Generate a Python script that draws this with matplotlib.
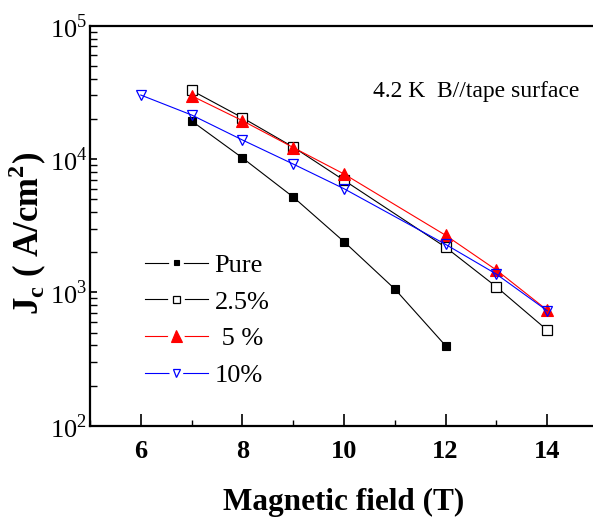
import matplotlib; matplotlib.use("Agg")
import matplotlib.pyplot as plt
import matplotlib.patheffects as pe
from matplotlib.lines import Line2D
from matplotlib.legend_handler import HandlerTuple
from matplotlib.ticker import LogLocator, NullFormatter, FixedLocator

plt.rcParams["font.family"] = ["Liberation Serif", "DejaVu Serif"]
plt.rcParams["mathtext.fontset"] = "custom"
plt.rcParams["mathtext.rm"] = "Liberation Serif"
plt.rcParams["mathtext.bf"] = "Liberation Serif:bold"

# data (field in T, Jc in A/cm^2)
field_pure = [7, 8, 9, 10, 11, 12]
jc_pure = [19300, 10200, 5190, 2400, 1060, 398]
field_25 = [7, 8, 9, 10, 12, 13, 14]
jc_25 = [32700, 20400, 12300, 6930, 2180, 1100, 521]
field_5 = [7, 8, 9, 10, 12, 13, 14]
jc_5 = [29800, 19400, 12200, 7720, 2680, 1470, 736]
field_10 = [6, 7, 8, 9, 10, 12, 13, 14]
jc_10 = [30200, 21400, 13900, 9170, 5990, 2290, 1370, 728]
labels = ["Pure", "2.5%", " 5 %", "10%"]

styles = [
    dict(color="black", marker="s", ms=5.5, mfc="black", mec="black", mew=0.8),
    dict(color="black", marker="s", ms=6.5, mfc="white", mec="black", mew=0.9),
    dict(color="red", marker="^", ms=8.5, mfc="red", mec="red", mew=0.8),
    dict(color="blue", marker="v", ms=7.5, mfc="none", mec="blue", mew=0.9),
]
leg_ms = [4.0, 5.0, 8.0, 5.5]

fig = plt.figure(figsize=(5.93, 5.17), dpi=100)
ax = fig.add_axes([90/593, 1-425.7/517, 508/593, 400/517])

series = [(field_pure, jc_pure), (field_25, jc_25), (field_5, jc_5), (field_10, jc_10)]
for (x, y), st, lab in zip(series, styles, labels):
    ax.plot(x, y, lw=0.8, label=lab, **st)

# legend handles: line with a gap around the marker
handles = []
for st, ms in zip(styles, leg_ms):
    line = Line2D([], [], color=st["color"], lw=0.8)
    mk = Line2D([], [], ls="none", marker=st["marker"], ms=ms, mfc=st["mfc"],
                mec=st["mec"], mew=st["mew"],
                path_effects=[pe.Stroke(linewidth=7, foreground="white"), pe.Normal()])
    handles.append((line, mk))

ax.set_yscale("log")
ax.set_xlim(5, 15)
ax.set_ylim(1e2, 1e5)

ax.xaxis.set_major_locator(FixedLocator([6, 8, 10, 12, 14]))
ax.xaxis.set_minor_locator(FixedLocator([5, 7, 9, 11, 13, 15]))
ax.yaxis.set_minor_locator(LogLocator(base=10, subs=range(2, 10), numticks=10))
ax.yaxis.set_minor_formatter(NullFormatter())
ax.set_yticks([1e2, 1e3, 1e4, 1e5])
ax.set_yticklabels([r"10$^{2}$", r"10$^{3}$", r"10$^{4}$", r"10$^{5}$"], fontsize=19)
ax.set_xticklabels(["6", "8", "10", "12", "14"], fontsize=19, fontweight="bold")

ax.tick_params(axis="x", which="major", direction="in", length=9, width=1.2, pad=10)
ax.tick_params(axis="x", which="minor", direction="in", length=4, width=1.0)
ax.tick_params(axis="y", which="major", direction="in", length=5, width=1.2, pad=2)
ax.tick_params(axis="y", which="minor", direction="in", length=5, width=1.0)
for s in ax.spines.values():
    s.set_linewidth(1.6)

ax.set_xlabel("Magnetic field (T)", fontsize=22.5, fontweight="bold", labelpad=18)
ax.set_ylabel(r"J$_\mathbf{c}$ ( A/cm$^\mathbf{2}$)", fontsize=25, fontweight="bold")
ax.yaxis.set_label_coords(-0.08, 0.48)

ax.text(0.557, 0.822, "4.2 K  B//tape surface", transform=ax.transAxes, fontsize=17)

ax.legend(handles, labels, handler_map={tuple: HandlerTuple(ndivide=1)},
          loc="upper left", bbox_to_anchor=(0.087, 0.457), frameon=False, fontsize=19,
          handlelength=2.4, handletextpad=0.25, labelspacing=0.5, borderaxespad=0)

fig.savefig("out.png", dpi=100)
